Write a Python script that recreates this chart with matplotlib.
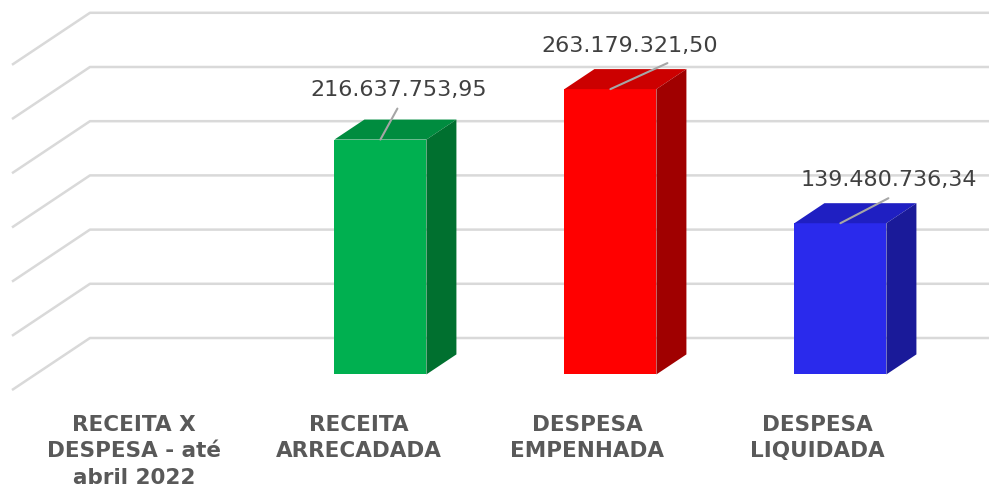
import matplotlib
matplotlib.use('Agg')
import matplotlib.pyplot as plt
from matplotlib.patches import Polygon

# categories and values (R$)
categories = ['RECEITA X\nDESPESA - até\nabril 2022', 'RECEITA\nARRECADADA',
              'DESPESA\nEMPENHADA', 'DESPESA\nLIQUIDADA']
values = [None, 216637753.95, 263179321.50, 139480736.34]
value_labels = ['', '216.637.753,95', '263.179.321,50', '139.480.736,34']
gridvals = [0, 50, 100, 150, 200, 250, 300]   # millions

front_cols = ['#00B050', '#00B050', '#FF0000', '#2A2AEC']
top_cols = ['#008C3F', '#008C3F', '#CC0000', '#1F1FC2']
side_cols = ['#00702F', '#00702F', '#A00000', '#1A1A99']

# label offsets in px (text centre / leader end, relative to bar top)
text_off = [(0, 0), (18, 44), (19, 37), (48, 37)]
line_off = [(0, 0), (17, 31), (57, 26), (48, 25)]

# oblique "3d" projection: depth 1 shifts x by DX (categories) and y by DV (millions)
DX = 0.339
DV = 48.0
d0, d1 = 0.30, 0.685
width = 0.4

fig = plt.figure(figsize=(9.89, 4.98), dpi=100)
ax = fig.add_axes([0, 0, 1, 1])
ax.set_xlim(-0.5522, 3.7478)
ax.set_ylim(-99.6, 359.8)
ax.axis('off')

grid_col = '#D9D9D9'
for g in gridvals:
    ax.plot([-0.5, -0.5 + DX, 4.0], [g, g + DV, g + DV], color=grid_col,
            lw=1.8, solid_capstyle='butt', zorder=1)

for i, v in enumerate(values):
    if v is None:
        continue
    h = v / 1e6
    x0 = i + DX * d0 - width / 2
    x1 = x0 + width
    b = DV * d0
    ax.bar(x0, h, bottom=b, width=width, align='edge', color=front_cols[i],
           edgecolor='none', zorder=3)
    ddx = DX * (d1 - d0)
    ddv = DV * (d1 - d0)
    top = [(x0, b + h), (x1, b + h), (x1 + ddx, b + h + ddv), (x0 + ddx, b + h + ddv)]
    side = [(x1, b), (x1, b + h), (x1 + ddx, b + h + ddv), (x1 + ddx, b + ddv)]
    ax.add_patch(Polygon(top, closed=True, color=top_cols[i], lw=0, zorder=3))
    ax.add_patch(Polygon(side, closed=True, color=side_cols[i], lw=0, zorder=3))

    anchor = (i + DX * d0, b + h)
    lx, ly = line_off[i]
    ax.annotate('', xy=anchor, xytext=(lx * 0.72, ly * 0.72), textcoords='offset points',
                arrowprops=dict(arrowstyle='-', color='#A6A6A6', lw=1.5,
                                shrinkA=0, shrinkB=0), zorder=4)
    tx, ty = text_off[i]
    ax.annotate(value_labels[i], xy=anchor, xytext=(tx * 0.72, ty * 0.72),
                textcoords='offset points', ha='center', va='baseline',
                fontsize=16, color='#404040', zorder=5)

label_x = [0.03, 1.01, 2.0, 3.0]
for i, c in enumerate(categories):
    ax.text(label_x[i], -23, c, ha='center', va='top', fontsize=15.5,
            fontweight='bold', color='#595959', linespacing=1.4)

fig.savefig('out.png', dpi=100)
